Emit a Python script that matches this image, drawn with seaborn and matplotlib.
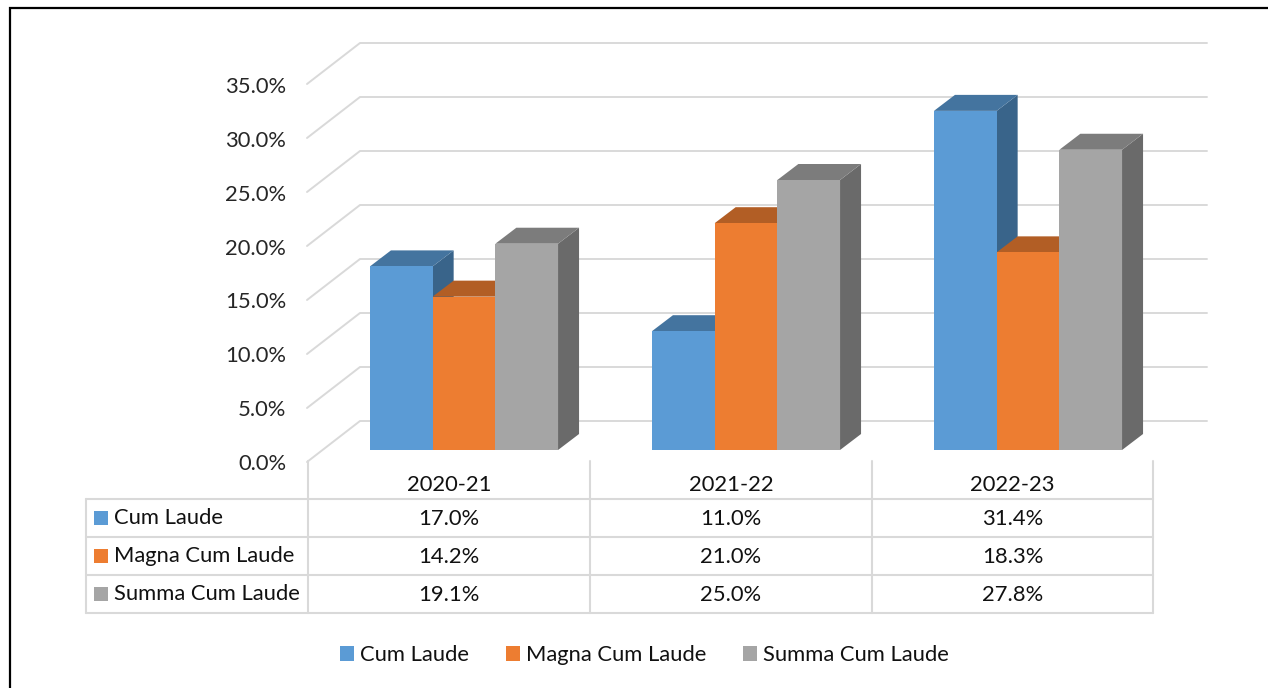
import pandas as pd
import matplotlib
matplotlib.use("Agg")
import matplotlib.pyplot as plt
from matplotlib.patches import Polygon, Rectangle
import seaborn as sns

years = ["2020-21", "2021-22", "2022-23"]
series_names = ["Cum Laude", "Magna Cum Laude", "Summa Cum Laude"]
cum_laude = [17.0, 11.0, 31.4]
magna_cum_laude = [14.2, 21.0, 18.3]
summa_cum_laude = [19.1, 25.0, 27.8]
y_ticks = [0, 5, 10, 15, 20, 25, 30, 35]

front_colors = ["#5B9BD5", "#ED7D31", "#A5A5A5"]
top_colors = ["#44749F", "#B25E25", "#7C7C7C"]
side_colors = ["#39648A", "#9A5120", "#6A6A6A"]
GRID = "#D9D9D9"
TEXT = "#111111"
FONT = 15.8

W, H = 1268, 688

sns.set_theme(style="white")
plt.rcParams["font.family"] = ["Lato", "DejaVu Sans"]
plt.rcParams["text.color"] = TEXT


def axes_px(fig, left, top, right, bottom):
    return fig.add_axes([left / W, 1 - bottom / H, (right - left) / W, (bottom - top) / H])


values = [cum_laude, magna_cum_laude, summa_cum_laude]
df = pd.DataFrame({
    "year": years * 3,
    "series": [s for s in series_names for _ in years],
    "value": [v for row in values for v in row],
})

fig = plt.figure(figsize=(W / 100, H / 100), dpi=100, facecolor="white")

# full-figure layer in pixels: frame, back wall, data table
bg = axes_px(fig, 0, 0, W, H)
bg.set_xlim(0, W)
bg.set_ylim(H, 0)
bg.axis("off")

bg.plot([10, 10, W], [H, 7.5, 7.5], color="black", lw=1.6, solid_joinstyle="miter")

wall_scale = 54 / 5
for t in y_ticks:
    y_back = 421 - t * wall_scale
    y_front = y_back + 41
    bg.plot([307, 360, 1207], [y_front, y_back, y_back], color=GRID, lw=1.4)

# table
col_x = [308, 590, 872, 1153]
row_y = [499, 537, 575, 613]
for x in col_x:
    bg.plot([x, x], [461, 613], color=GRID, lw=1.5)
bg.plot([86, 86], [499, 613], color=GRID, lw=1.5)
for y in row_y:
    bg.plot([86, 1153], [y, y], color=GRID, lw=1.5)

for j, year in enumerate(years):
    bg.text((col_x[j] + col_x[j + 1]) / 2, 485, year, ha="center", va="center", fontsize=FONT)

for i, name in enumerate(series_names):
    yc = (row_y[i] + row_y[i + 1]) / 2
    bg.add_patch(Rectangle((94, yc - 7), 14, 14, color=front_colors[i], lw=0))
    bg.text(114, yc, name, ha="left", va="center", fontsize=FONT)
    for j in range(len(years)):
        bg.text((col_x[j] + col_x[j + 1]) / 2, yc + 1, f"{values[i][j]:.1f}%",
                ha="center", va="center", fontsize=FONT)

# value axis on the front-left edge
axis_ax = axes_px(fig, 307, 85, 308, 462)
axis_ax.patch.set_alpha(0)
axis_ax.set_ylim(0, 35)
axis_ax.set_xticks([])
axis_ax.set_yticks(y_ticks)
axis_ax.set_yticklabels([f"{t:.1f}%" for t in y_ticks], fontsize=FONT)
axis_ax.tick_params(axis="y", length=0, pad=15)
sns.despine(ax=axis_ax, left=True, bottom=True)

# bar front faces
ax = axes_px(fig, 323, 72, 1169, 450)
ax.patch.set_alpha(0)
sns.barplot(data=df, x="year", y="value", hue="series", hue_order=series_names,
            palette=front_colors, width=0.667, saturation=1, ax=ax, linewidth=0)
ax.set_xlim(-0.5, 2.5)
ax.set_ylim(0, 35)
ax.set_xticks([])
ax.set_yticks([])
ax.set_xlabel("")
ax.set_ylabel("")
sns.despine(ax=ax, left=True, bottom=True)

# extrude the bars: depth of 21px / 16px in data units
dx = 21 / 282
dy = 16 / wall_scale
for i, cont in enumerate(ax.containers):
    for bar in cont:
        x0 = bar.get_x()
        x1 = x0 + bar.get_width()
        h = bar.get_height()
        top = Polygon([(x0, h), (x1, h), (x1 + dx, h + dy), (x0 + dx, h + dy)],
                      closed=True, facecolor=top_colors[i], edgecolor="none", zorder=3 + 2 * i)
        side = Polygon([(x1, 0), (x1 + dx, dy), (x1 + dx, h + dy), (x1, h)],
                       closed=True, facecolor=side_colors[i], edgecolor="none", zorder=3 + 2 * i)
        ax.add_patch(side)
        ax.add_patch(top)
        bar.set_zorder(3.5 + 2 * i)

sns.move_legend(ax, "center", bbox_to_anchor=(644.5 / W, 1 - 655 / H), bbox_transform=fig.transFigure,
                ncol=3, title=None, frameon=False, fontsize=FONT, handlelength=0.65, handleheight=0.65,
                handletextpad=0.25, columnspacing=1.69)

fig.savefig("out.png", dpi=100)
